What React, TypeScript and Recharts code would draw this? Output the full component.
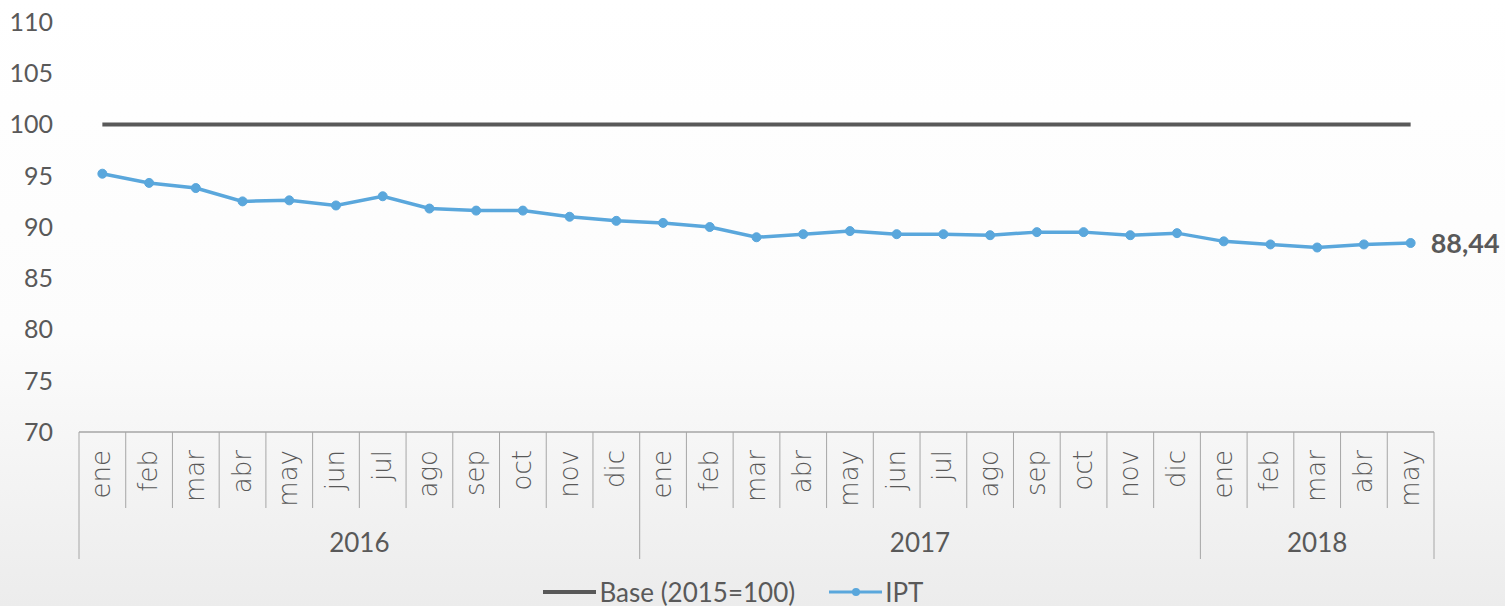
import { LineChart, Line, XAxis, YAxis, Legend } from 'recharts'

const months = [
  'ene', 'feb', 'mar', 'abr', 'may', 'jun', 'jul', 'ago', 'sep', 'oct', 'nov', 'dic',
  'ene', 'feb', 'mar', 'abr', 'may', 'jun', 'jul', 'ago', 'sep', 'oct', 'nov', 'dic',
  'ene', 'feb', 'mar', 'abr', 'may',
]
const years = [
  '2016', '2016', '2016', '2016', '2016', '2016', '2016', '2016', '2016', '2016', '2016', '2016',
  '2017', '2017', '2017', '2017', '2017', '2017', '2017', '2017', '2017', '2017', '2017', '2017',
  '2018', '2018', '2018', '2018', '2018',
]
const ipt = [
  95.2, 94.3, 93.8, 92.5, 92.6, 92.1, 93.0, 91.8, 91.6, 91.6, 91.0, 90.6,
  90.4, 90.0, 89.0, 89.3, 89.6, 89.3, 89.3, 89.2, 89.5, 89.5, 89.2, 89.4,
  88.6, 88.3, 88.0, 88.3, 88.44,
]
const base = months.map(() => 100)
const yTicks = [70, 75, 80, 85, 90, 95, 100, 105, 110]

const data = months.map((m, i) => ({ month: m, year: years[i], ipt: ipt[i], base: base[i] }))

const WIDTH = 1505
const HEIGHT = 606
const Y_AXIS_W = 79
const MARGIN = { top: 22, right: 71, bottom: 0, left: 0 }
const BAND = (WIDTH - MARGIN.right - Y_AXIS_W) / months.length
const TEXT = '#595959'
const GRID = '#a6a6a6'
const BLUE = '#5aa7dc'
const FONT = 'Lato, "Liberation Sans", sans-serif'
const MONTH_FONT = '"DejaVu Sans", sans-serif'

// index where each year's label is drawn, and whether it sits between two bands
const yearLabelAt = (i: number) => {
  const y = years[i]
  const start = years.indexOf(y)
  const count = years.filter((v) => v === y).length
  if (count % 2 === 0) return i === start + count / 2 - 1 ? 'edge' : null
  return i === start + (count - 1) / 2 ? 'center' : null
}

const MonthTick = (props: any) => {
  const { x, y, payload, index } = props
  const i = index ?? payload.index
  const left = x - BAND / 2
  const isYearStart = i === 0 || years[i] !== years[i - 1]
  const isLast = i === months.length - 1
  const yl = yearLabelAt(i)
  return (
    <g>
      <line x1={left} x2={left} y1={y} y2={y + (isYearStart ? 127 : 76)} stroke={GRID} strokeWidth={1} />
      {isLast && <line x1={x + BAND / 2} x2={x + BAND / 2} y1={y} y2={y + 127} stroke={GRID} strokeWidth={1} />}
      <text
        x={0}
        y={0}
        transform={`translate(${x + 8},${y + 18}) rotate(-90)`}
        textAnchor="end"
        fill={TEXT}
        fontSize={26}
        fontFamily={MONTH_FONT}
        style={{ fontWeight: 300 }}
      >
        {payload.value}
      </text>
      {yl && (
        <text
          x={yl === 'edge' ? x + BAND / 2 : x}
          y={y + 120}
          textAnchor="middle"
          fill={TEXT}
          fontSize={26}
          fontFamily={FONT}
        >
          {years[i]}
        </text>
      )}
    </g>
  )
}

const EndLabel = (props: any) => {
  const { x, y, index, value } = props
  if (index !== ipt.length - 1) return null
  return (
    <text x={x + 20} y={y + 10} fill={TEXT} fontSize={27} fontWeight="bold" fontFamily={FONT}>
      {Number(value).toFixed(2).replace('.', ',')}
    </text>
  )
}

const renderLegend = () => (
  <div
    style={{
      display: 'flex',
      justifyContent: 'center',
      alignItems: 'center',
      paddingLeft: 32,
      paddingTop: 17,
      fontFamily: FONT,
      fontSize: 26,
      lineHeight: '26px',
      color: TEXT,
    }}
  >
    <svg width={53} height={12} style={{ marginRight: 4 }}>
      <line x1={0} x2={53} y1={6} y2={6} stroke={TEXT} strokeWidth={4} />
    </svg>
    <span style={{ marginRight: 34 }}>Base (2015=100)</span>
    <svg width={53} height={12} style={{ marginRight: 3 }}>
      <line x1={0} x2={53} y1={6} y2={6} stroke={BLUE} strokeWidth={3} />
      <circle cx={27} cy={6} r={4} fill={BLUE} />
    </svg>
    <span>IPT</span>
  </div>
)

const App = () => {
  return (
    <div
      style={{
        position: 'absolute',
        left: 0,
        top: 0,
        width: WIDTH,
        height: HEIGHT,
        background: 'linear-gradient(180deg, #ffffff 0%, #fcfcfc 55%, #ececec 100%)',
        fontFamily: FONT,
      }}
    >
      <LineChart width={WIDTH} height={HEIGHT} data={data} margin={MARGIN}>
        <XAxis
          dataKey="month"
          interval={0}
          height={130}
          padding={{ left: BAND / 2, right: BAND / 2 }}
          tickLine={false}
          tickSize={0}
          tickMargin={0}
          axisLine={{ stroke: GRID, strokeWidth: 1.5 }}
          tick={(p: any) => <MonthTick {...p} />}
        />
        <YAxis
          width={Y_AXIS_W}
          domain={[70, 110]}
          ticks={yTicks}
          interval={0}
          axisLine={false}
          tickLine={false}
          tickSize={0}
          tickMargin={26}
          tick={{ fill: TEXT, fontSize: 25, fontFamily: FONT }}
        />
        <Legend verticalAlign="bottom" height={44} content={renderLegend} />
        <Line
          dataKey="base"
          name="Base (2015=100)"
          stroke={TEXT}
          strokeWidth={4}
          dot={false}
          isAnimationActive={false}
        />
        <Line
          dataKey="ipt"
          name="IPT"
          stroke={BLUE}
          strokeWidth={3.5}
          dot={{ r: 4.5, fill: BLUE, stroke: BLUE, strokeWidth: 1 }}
          label={<EndLabel />}
          isAnimationActive={false}
        />
      </LineChart>
    </div>
  )
}

export default App
